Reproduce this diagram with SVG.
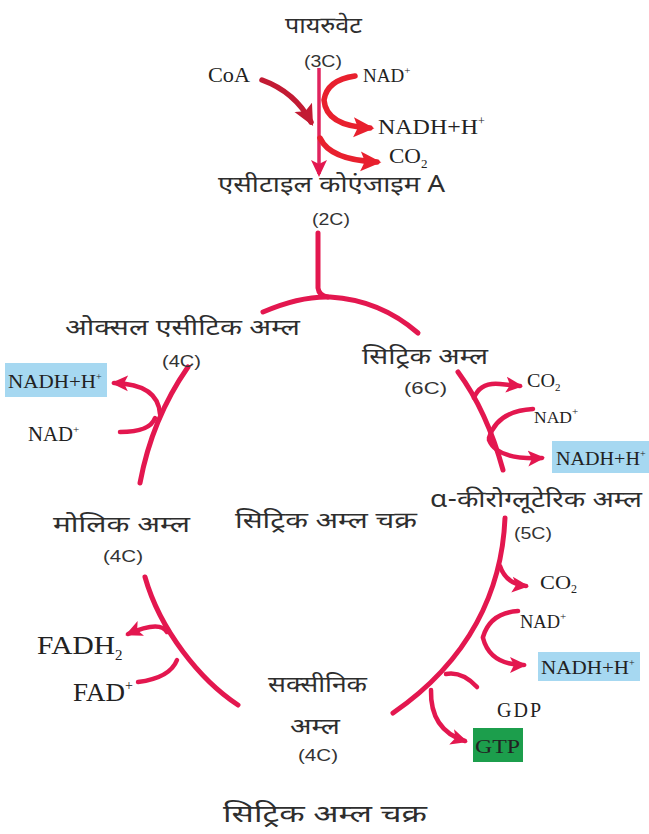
<svg xmlns="http://www.w3.org/2000/svg" width="649" height="834" viewBox="0 0 649 834">
<style>
.hi{font-family:"Noto Sans Devanagari","Lohit Devanagari","Noto Sans","DejaVu Sans",sans-serif;fill:#2e2e2e;}
.lat{font-family:"Liberation Serif","Times New Roman",serif;fill:#222;}
.cn{font-family:"Liberation Sans",Arial,sans-serif;fill:#333;}
.ln{fill:none;stroke:#e3174f;stroke-width:5;stroke-linecap:round;}
.br{fill:none;stroke:#e3174f;stroke-width:4.5;stroke-linecap:round;}
</style>
<defs>
<marker id="ah" markerUnits="userSpaceOnUse" markerWidth="18" markerHeight="18" viewBox="0 0 18 18" refX="14" refY="9" orient="auto">
<path d="M0,1 L17,9 L0,17 L4,9 z" fill="#e3174f"/>
</marker>
<marker id="ahd" markerUnits="userSpaceOnUse" markerWidth="22" markerHeight="22" viewBox="0 0 20 20" refX="15" refY="10" orient="auto">
<path d="M0,1 L19,10 L0,19 L4,10 z" fill="#c21a33"/>
</marker>
<marker id="ahr" markerUnits="userSpaceOnUse" markerWidth="22" markerHeight="22" viewBox="0 0 20 20" refX="15" refY="10" orient="auto">
<path d="M0,1 L19,10 L0,19 L4,10 z" fill="#e8202e"/>
</marker>
</defs>

<g id="connectors">
<path d="M319,68 L319,174" fill="none" stroke="#e0245e" stroke-width="3.5" marker-end="url(#ah)"/>
<path d="M262,80 Q295,92 311,122" fill="none" stroke="#c21a33" stroke-width="5.5" stroke-linecap="round" marker-end="url(#ahd)"/>
<path d="M355,76 Q327,80 324,100 Q326,126 370,128" fill="none" stroke="#e8202e" stroke-width="5.5" stroke-linecap="round" marker-end="url(#ahr)"/>
<path d="M320,138 Q330,160 377,162" fill="none" stroke="#e8202e" stroke-width="5.5" stroke-linecap="round" marker-end="url(#ahr)"/>
<path class="ln" d="M318,233 L318,288 Q319,296 328,297"/>
<path class="ln" d="M263,312 Q300,296 330,297 Q380,300 418,333"/>
<path class="ln" d="M458,372 C475,395 492,430 503,470"/>
<path class="ln" d="M505,518 C502,590 470,660 393,713"/>
<path class="ln" d="M238,705 C200,680 160,630 145,577"/>
<path class="ln" d="M140,483 C148,440 165,400 188,367"/>
<path class="br" d="M474,398 Q480,382 500,384 L520,386" marker-end="url(#ah)"/>
<path class="br" d="M533,409 Q497,411 489,438"/>
<path class="br" d="M489,440 Q497,460 542,458" marker-end="url(#ah)"/>
<path class="br" d="M500,566 Q506,584 526,586" marker-end="url(#ah)"/>
<path class="br" d="M518,611 Q490,613 483,637"/>
<path class="br" d="M483,638 Q490,665 524,665" marker-end="url(#ah)"/>
<path class="br" d="M477,687 Q462,671 446,674"/>
<path class="br" d="M431,690 Q430,730 465,741" marker-end="url(#ah)"/>
<path class="br" d="M167,632 Q160,620 128,634" marker-end="url(#ah)"/>
<path class="br" d="M138,682 Q170,678 177,660"/>
<path class="br" d="M160,414 Q158,384 114,383" marker-end="url(#ah)"/>
<path class="br" d="M120,432 Q150,432 155,418"/>
</g>

<g id="pyruvate">
<text class="hi" x="285" y="33" font-size="23" textLength="77" lengthAdjust="spacingAndGlyphs">पायरुवेट</text>
<text class="cn" x="304" y="67" font-size="17" textLength="38" lengthAdjust="spacingAndGlyphs">(3C)</text>
</g>
<g id="coa"><text class="lat" x="208" y="82" font-size="20" textLength="42" lengthAdjust="spacingAndGlyphs">CoA</text></g>
<g id="nad-top"><text class="lat" x="363" y="82" font-size="19">NAD<tspan font-size="11" dy="-8">+</tspan></text></g>
<g id="nadh-top"><text class="lat" x="378" y="134" font-size="21"><tspan textLength="100" lengthAdjust="spacingAndGlyphs">NADH+H</tspan><tspan font-size="12" dy="-9">+</tspan></text></g>
<g id="co2-top"><text class="lat" x="389" y="163" font-size="21"><tspan textLength="32" lengthAdjust="spacingAndGlyphs">CO</tspan><tspan font-size="13" dy="5">2</tspan></text></g>
<g id="acetylcoa">
<text class="hi" x="218" y="192" font-size="23" textLength="227" lengthAdjust="spacingAndGlyphs">एसीटाइल कोएंजाइम A</text>
<text class="cn" x="312" y="225" font-size="17" textLength="38" lengthAdjust="spacingAndGlyphs">(2C)</text>
</g>

<g id="oxaloacetate">
<text class="hi" x="65" y="335" font-size="23" textLength="235" lengthAdjust="spacingAndGlyphs">ओक्सल एसीटिक अम्ल</text>
<text class="cn" x="162" y="367" font-size="17" textLength="39" lengthAdjust="spacingAndGlyphs">(4C)</text>
</g>
<g id="citrate">
<text class="hi" x="362" y="364" font-size="23" textLength="126" lengthAdjust="spacingAndGlyphs">सिट्रिक अम्ल</text>
<text class="cn" x="404" y="394" font-size="17" textLength="43" lengthAdjust="spacingAndGlyphs">(6C)</text>
</g>
<g id="co2-1"><text class="lat" x="527" y="387" font-size="18"><tspan textLength="28" lengthAdjust="spacingAndGlyphs">CO</tspan><tspan font-size="11" dy="4">2</tspan></text></g>
<g id="nad-1"><text class="lat" x="534" y="423" font-size="17.5">NAD<tspan font-size="11" dy="-8">+</tspan></text></g>
<g id="nadh-1">
<rect x="552" y="441" width="97" height="32" fill="#a6d8f1"/>
<text class="lat" x="556" y="465" font-size="18"><tspan textLength="84" lengthAdjust="spacingAndGlyphs">NADH+H</tspan><tspan font-size="10" dy="-8">+</tspan></text>
</g>
<g id="akg">
<text class="hi" x="430" y="507" font-size="23" textLength="212" lengthAdjust="spacingAndGlyphs">α-कीरोग्लूटेरिक अम्ल</text>
<text class="cn" x="514" y="539" font-size="17" textLength="38" lengthAdjust="spacingAndGlyphs">(5C)</text>
</g>
<g id="co2-2"><text class="lat" x="540" y="589" font-size="19"><tspan textLength="31" lengthAdjust="spacingAndGlyphs">CO</tspan><tspan font-size="12" dy="4">2</tspan></text></g>
<g id="nad-2"><text class="lat" x="520" y="628" font-size="19"><tspan textLength="40" lengthAdjust="spacingAndGlyphs">NAD</tspan><tspan font-size="11" dy="-8">+</tspan></text></g>
<g id="nadh-2">
<rect x="538" y="652" width="102" height="29" fill="#a6d8f1"/>
<text class="lat" x="541" y="674" font-size="18"><tspan textLength="88" lengthAdjust="spacingAndGlyphs">NADH+H</tspan><tspan font-size="10" dy="-8">+</tspan></text>
</g>
<g id="gdp"><text class="lat" x="497" y="717" font-size="20" letter-spacing="2">GDP</text></g>
<g id="gtp">
<rect x="473" y="728" width="50" height="34" fill="#1c9e4c"/>
<text class="lat" x="475" y="753" font-size="19" fill="#1a2a1a" textLength="45" lengthAdjust="spacingAndGlyphs">GTP</text>
</g>
<g id="succinate">
<text class="hi" x="268" y="692" font-size="23" textLength="99" lengthAdjust="spacingAndGlyphs">सक्सीनिक</text>
<text class="hi" x="290" y="734" font-size="23" textLength="50" lengthAdjust="spacingAndGlyphs">अम्ल</text>
<text class="cn" x="298" y="761" font-size="17" textLength="40" lengthAdjust="spacingAndGlyphs">(4C)</text>
</g>
<g id="fadh2"><text class="lat" x="37" y="654" font-size="25"><tspan textLength="78" lengthAdjust="spacingAndGlyphs">FADH</tspan><tspan font-size="15" dy="6">2</tspan></text></g>
<g id="fad"><text class="lat" x="73" y="701" font-size="25"><tspan textLength="52" lengthAdjust="spacingAndGlyphs">FAD</tspan><tspan font-size="14" dy="-11">+</tspan></text></g>
<g id="malate">
<text class="hi" x="53" y="532" font-size="23" textLength="137" lengthAdjust="spacingAndGlyphs">मोलिक अम्ल</text>
<text class="cn" x="103" y="562" font-size="17" textLength="40" lengthAdjust="spacingAndGlyphs">(4C)</text>
</g>
<g id="nadh-3">
<rect x="5" y="363" width="102" height="34" fill="#a6d8f1"/>
<text class="lat" x="8" y="388" font-size="18"><tspan textLength="88" lengthAdjust="spacingAndGlyphs">NADH+H</tspan><tspan font-size="10" dy="-8">+</tspan></text>
</g>
<g id="nad-3"><text class="lat" x="28" y="441" font-size="20"><tspan textLength="45" lengthAdjust="spacingAndGlyphs">NAD</tspan><tspan font-size="11" dy="-8">+</tspan></text></g>
<g id="center-label"><text class="hi" x="235" y="528" font-size="23" textLength="182" lengthAdjust="spacingAndGlyphs">सिट्रिक अम्ल चक्र</text></g>
<g id="title"><text class="hi" x="223" y="822" font-size="24" textLength="204" lengthAdjust="spacingAndGlyphs">सिट्रिक अम्ल चक्र</text></g>
</svg>
